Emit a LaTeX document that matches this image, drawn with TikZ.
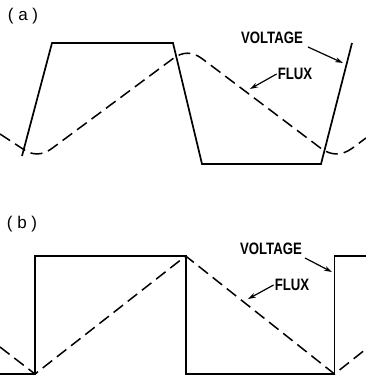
\documentclass[tikz,border=0pt]{standalone}
\usepackage{fontspec}
\newfontfamily\lblfont[FakeStretch=0.8]{Liberation Sans}
\newfontfamily\tagfont{Liberation Sans}
\usetikzlibrary{arrows.meta}

\begin{document}
\begin{tikzpicture}[x=1pt,y=-1pt,v/.style={line width=1.7pt,line join=miter}, f/.style={line width=1.5pt,dash pattern=on 12pt off 6pt}, lbl/.style={font=\lblfont\bfseries\fontsize{16.5}{16.5}\selectfont,inner sep=1pt}, tag/.style={font=\tagfont\fontsize{17}{17}\selectfont,inner sep=1pt}, arr/.style={-{Stealth[length=8pt,width=5pt]},line width=1.2pt}]
  \useasboundingbox (0,0) rectangle (366,380);
  % (a) trapezoidal voltage
  \node[tag](ta) at (23,16){(\;a\;)};
  \draw[v] (22,156)--(52,43)--(173,43)--(202,164)--(321,164)--(352,43);
  \draw[f] (0,134)--(22,148.4) .. controls (32,155.8) and (42,155.8) .. (52,148.4)--(173,58.6) .. controls (182.7,51.4) and (192.3,51.4) .. (202,58.6)--(321,148.4) .. controls (331.3,155.8) and (341.7,155.8) .. (352,148.4)--(366,138);
  \node[lbl](vla) at (272,38){VOLTAGE};
  \node[lbl](fla) at (295,74){FLUX};
  \coordinate (va) at (343,63);
  \coordinate (fa) at (250,89);
  \draw[arr] (308,47)--(va);
  \draw[arr] (fla.west)--(fa);
  % (b) square voltage
  \node[tag](tb) at (22,224){(\;b\;)};
  \draw[v] (0,374)--(35,374)--(35,256)--(185.7,256)--(185.7,374)--(334.5,374)--(334.5,256)--(366,256);
  \draw[f] (0,347)--(35,374)--(185.7,256)--(334.5,374)--(366,349);
  \node[lbl](vlb) at (271,249){VOLTAGE};
  \node[lbl](flb) at (292,285){FLUX};
  \coordinate (vb) at (332,272);
  \coordinate (fb) at (248,299);
  \draw[arr] (305,258)--(vb);
  \draw[arr] (flb.west)--(fb);
\end{tikzpicture}
\end{document}
